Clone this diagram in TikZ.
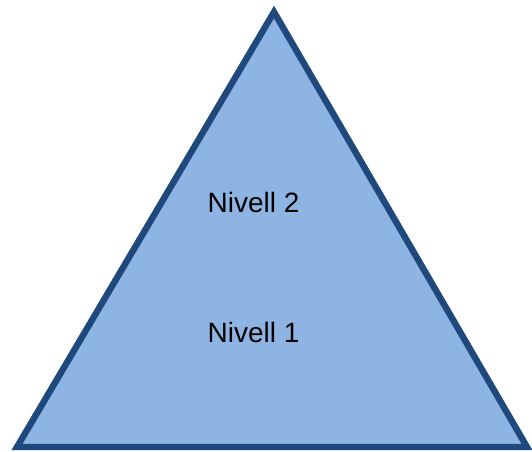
\documentclass[tikz,border=0pt]{standalone}
\usepackage{fontspec}
\setmainfont{Liberation Sans}
\definecolor{nivfill}{HTML}{8EB4E3}
\definecolor{nivdraw}{HTML}{1F497D}

\begin{document}
\begin{tikzpicture}[x=0.75pt,y=-0.75pt,
		piramide/.style={draw=nivdraw, fill=nivfill, line width=4.8pt, line join=miter},
		nivell/.style={font=\fontsize{21}{25}\selectfont, inner sep=0pt}]
	\useasboundingbox (0,0) rectangle (532,451);
	\draw[piramide] (274,12) coordinate (cim) -- (527,447) coordinate (dreta)
		-- (17,447) coordinate (esquerra) -- cycle;
	\foreach \n/\y in {1/332,2/202}{
			\node[nivell] (niv\n) at (253.5,\y) {Nivell \n};
		}
\end{tikzpicture}
\end{document}
